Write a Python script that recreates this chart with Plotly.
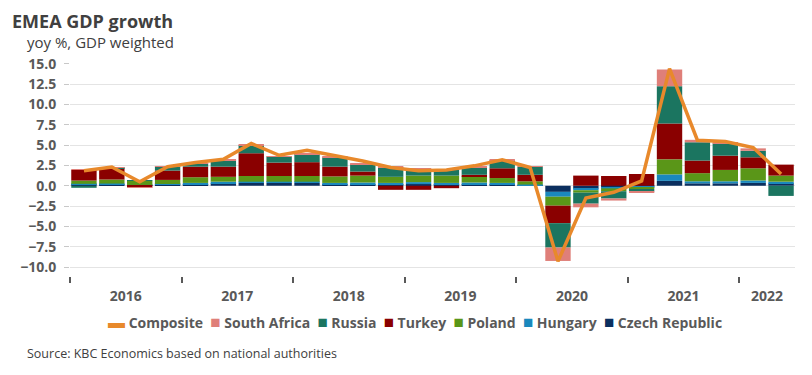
import plotly.graph_objects as go

quarters = list(range(26))  # 2016Q1 .. 2022Q2
year_labels = ["2016", "2017", "2018", "2019", "2020", "2021", "2022"]
year_label_pos = [1.5, 5.5, 9.5, 13.5, 17.5, 21.5, 24.5]
year_bounds = [-0.5, 3.5, 7.5, 11.5, 15.5, 19.5, 23.5]

czech = [0.12, 0.15, 0.05, 0.12, 0.2, 0.3, 0.35, 0.35, 0.35, 0.2, 0.2, 0.15, 0.2,
         0.15, 0.2, 0.15, 0.05, -0.75, -0.35, -0.2, -0.12, 0.6, 0.3, 0.3, 0.35, 0.3]
hungary = [0.12, 0.12, 0.05, 0.1, 0.15, 0.2, 0.15, 0.15, 0.15, 0.15, 0.2, 0.2, 0.25,
           0.2, 0.2, 0.2, 0.1, -0.6, -0.2, -0.12, -0.08, 0.8, 0.25, 0.25, 0.3, 0.2]
poland = [0.4, 0.5, 0.5, 0.5, 0.7, 0.6, 0.7, 0.7, 0.7, 0.8, 0.85, 0.75, 0.8,
          0.9, 0.75, 0.6, 0.4, -1.1, -0.3, -0.35, -0.2, 1.85, 1.0, 1.4, 1.5, 0.75]
turkey = [1.3, 1.4, -0.2, 1.15, 1.3, 1.25, 2.8, 1.65, 1.7, 1.2, 0.5, -0.5, -0.5,
          -0.3, 0.2, 1.2, 0.8, -2.15, 1.25, 1.2, 1.45, 4.4, 1.55, 1.75, 1.35, 1.35]
russia = [-0.25, 0.03, 0.05, 0.5, 0.4, 0.8, 1.0, 0.75, 1.0, 1.15, 0.9, 1.15, 0.8,
          0.75, 0.95, 1.0, 1.0, -3.0, -1.35, -0.9, -0.3, 4.6, 2.25, 1.5, 0.8, -1.25]
south_africa = [0.02, 0.05, -0.02, 0.05, 0.05, 0.05, 0.1, 0.05, 0.05, 0.05, 0.1, 0.1, 0.1,
                0.05, 0.05, 0.05, 0.05, -1.65, -0.45, -0.25, -0.15, 2.05, 0.3, 0.1, 0.3, 0.0]
composite = [1.85, 2.3, 0.5, 2.35, 2.85, 3.25, 5.2, 3.75, 4.35, 3.7, 3.05, 2.25, 1.85,
             1.95, 2.45, 3.2, 2.25, -9.3, -1.5, -0.8, 0.6, 14.4, 5.6, 5.45, 4.7, 1.45]

series = [
    ("Czech Republic", czech, "#0b2f5f"),
    ("Hungary", hungary, "#1a88bd"),
    ("Poland", poland, "#5a9618"),
    ("Turkey", turkey, "#8a0000"),
    ("Russia", russia, "#1b7560"),
    ("South Africa", south_africa, "#df7f79"),
]
COMPOSITE_COLOR = "#e8892b"

FONT = "Open Sans"
GREY = "#595959"

# page body has an 8px margin, so the figure is sized to the remaining window
W, H = 804, 367
ML, MR, MT, MB = 50, 17, 55, 99
PH = H - MT - MB
PW = W - ML - MR

fig = go.Figure()
for name, vals, col in series:
    fig.add_trace(go.Bar(x=quarters, y=vals, name=name, marker_color=col,
                         marker_line_width=0))
fig.add_trace(go.Scatter(x=quarters, y=composite, name="Composite", mode="lines",
                         line=dict(color=COMPOSITE_COLOR, width=3.5)))

fig.update_layout(
    width=W, height=H,
    barmode="relative", bargap=0.09,
    plot_bgcolor="white", paper_bgcolor="white",
    margin=dict(l=ML, r=MR, t=MT, b=MB),
    font=dict(family=FONT, color=GREY),
    title=dict(text="<b>EMEA GDP growth</b>", font=dict(size=18, color="#404040", family=FONT),
               x=4 / W, xanchor="left", xref="container",
               y=1 - 14 / H, yanchor="middle", yref="container"),
    showlegend=False,
)

fig.update_xaxes(
    range=[-0.5, 25.5], tickmode="array", tickvals=year_label_pos, ticktext=year_labels,
    ticks="", showgrid=False, zeroline=False, showline=False,
    tickfont=dict(size=14, color=GREY, family=FONT, weight="bold"),
    ticklabelstandoff=10,
    minor=dict(tickmode="array", tickvals=year_bounds, ticks="outside", ticklen=6,
               tickwidth=2, tickcolor=GREY, showgrid=False),
)
fig.update_yaxes(
    range=[-11.1, 15.1], tickmode="array",
    tickvals=[-10, -7.5, -5, -2.5, 0, 2.5, 5, 7.5, 10, 12.5, 15],
    tickformat=".1f", ticks="outside", ticklen=5, tickcolor="#c8c8c8",
    showgrid=True, gridcolor="#e4e4e4", gridwidth=1, zeroline=False, showline=False,
    tickfont=dict(size=14, color=GREY, family=FONT, weight="bold"),
    ticklabelstandoff=5,
)

# compact legend (reversed stacking order), symbols coloured like the traces
legend_items = [("Composite", COMPOSITE_COLOR, "▬")] + \
    [(name, col, "■") for name, _, col in reversed(series)]
legend_text = "  ".join(
    f"<span style='color:{col};font-size:17px'>{sym}</span> {name}"
    for name, col, sym in legend_items)
fig.add_annotation(text=legend_text, xref="paper", yref="paper",
                   x=(401 - ML) / PW, y=(PH + MT - 313) / PH, xanchor="center",
                   yanchor="middle", showarrow=False,
                   font=dict(size=14, color=GREY, family=FONT, weight="bold"))

fig.add_annotation(text="yoy %, GDP weighted", xref="paper", yref="paper",
                   x=(4 - ML) / PW, y=(PH + MT - 34) / PH, xanchor="left", yanchor="middle",
                   showarrow=False, font=dict(size=15, color="#404040", family=FONT))
fig.add_annotation(text="Source: KBC Economics based on national authorities",
                   xref="paper", yref="paper", x=(4 - ML) / PW, y=(PH + MT - 345) / PH,
                   xanchor="left", yanchor="middle", showarrow=False,
                   font=dict(size=12.5, color="#404040", family=FONT))

fig.write_html("out.html")
